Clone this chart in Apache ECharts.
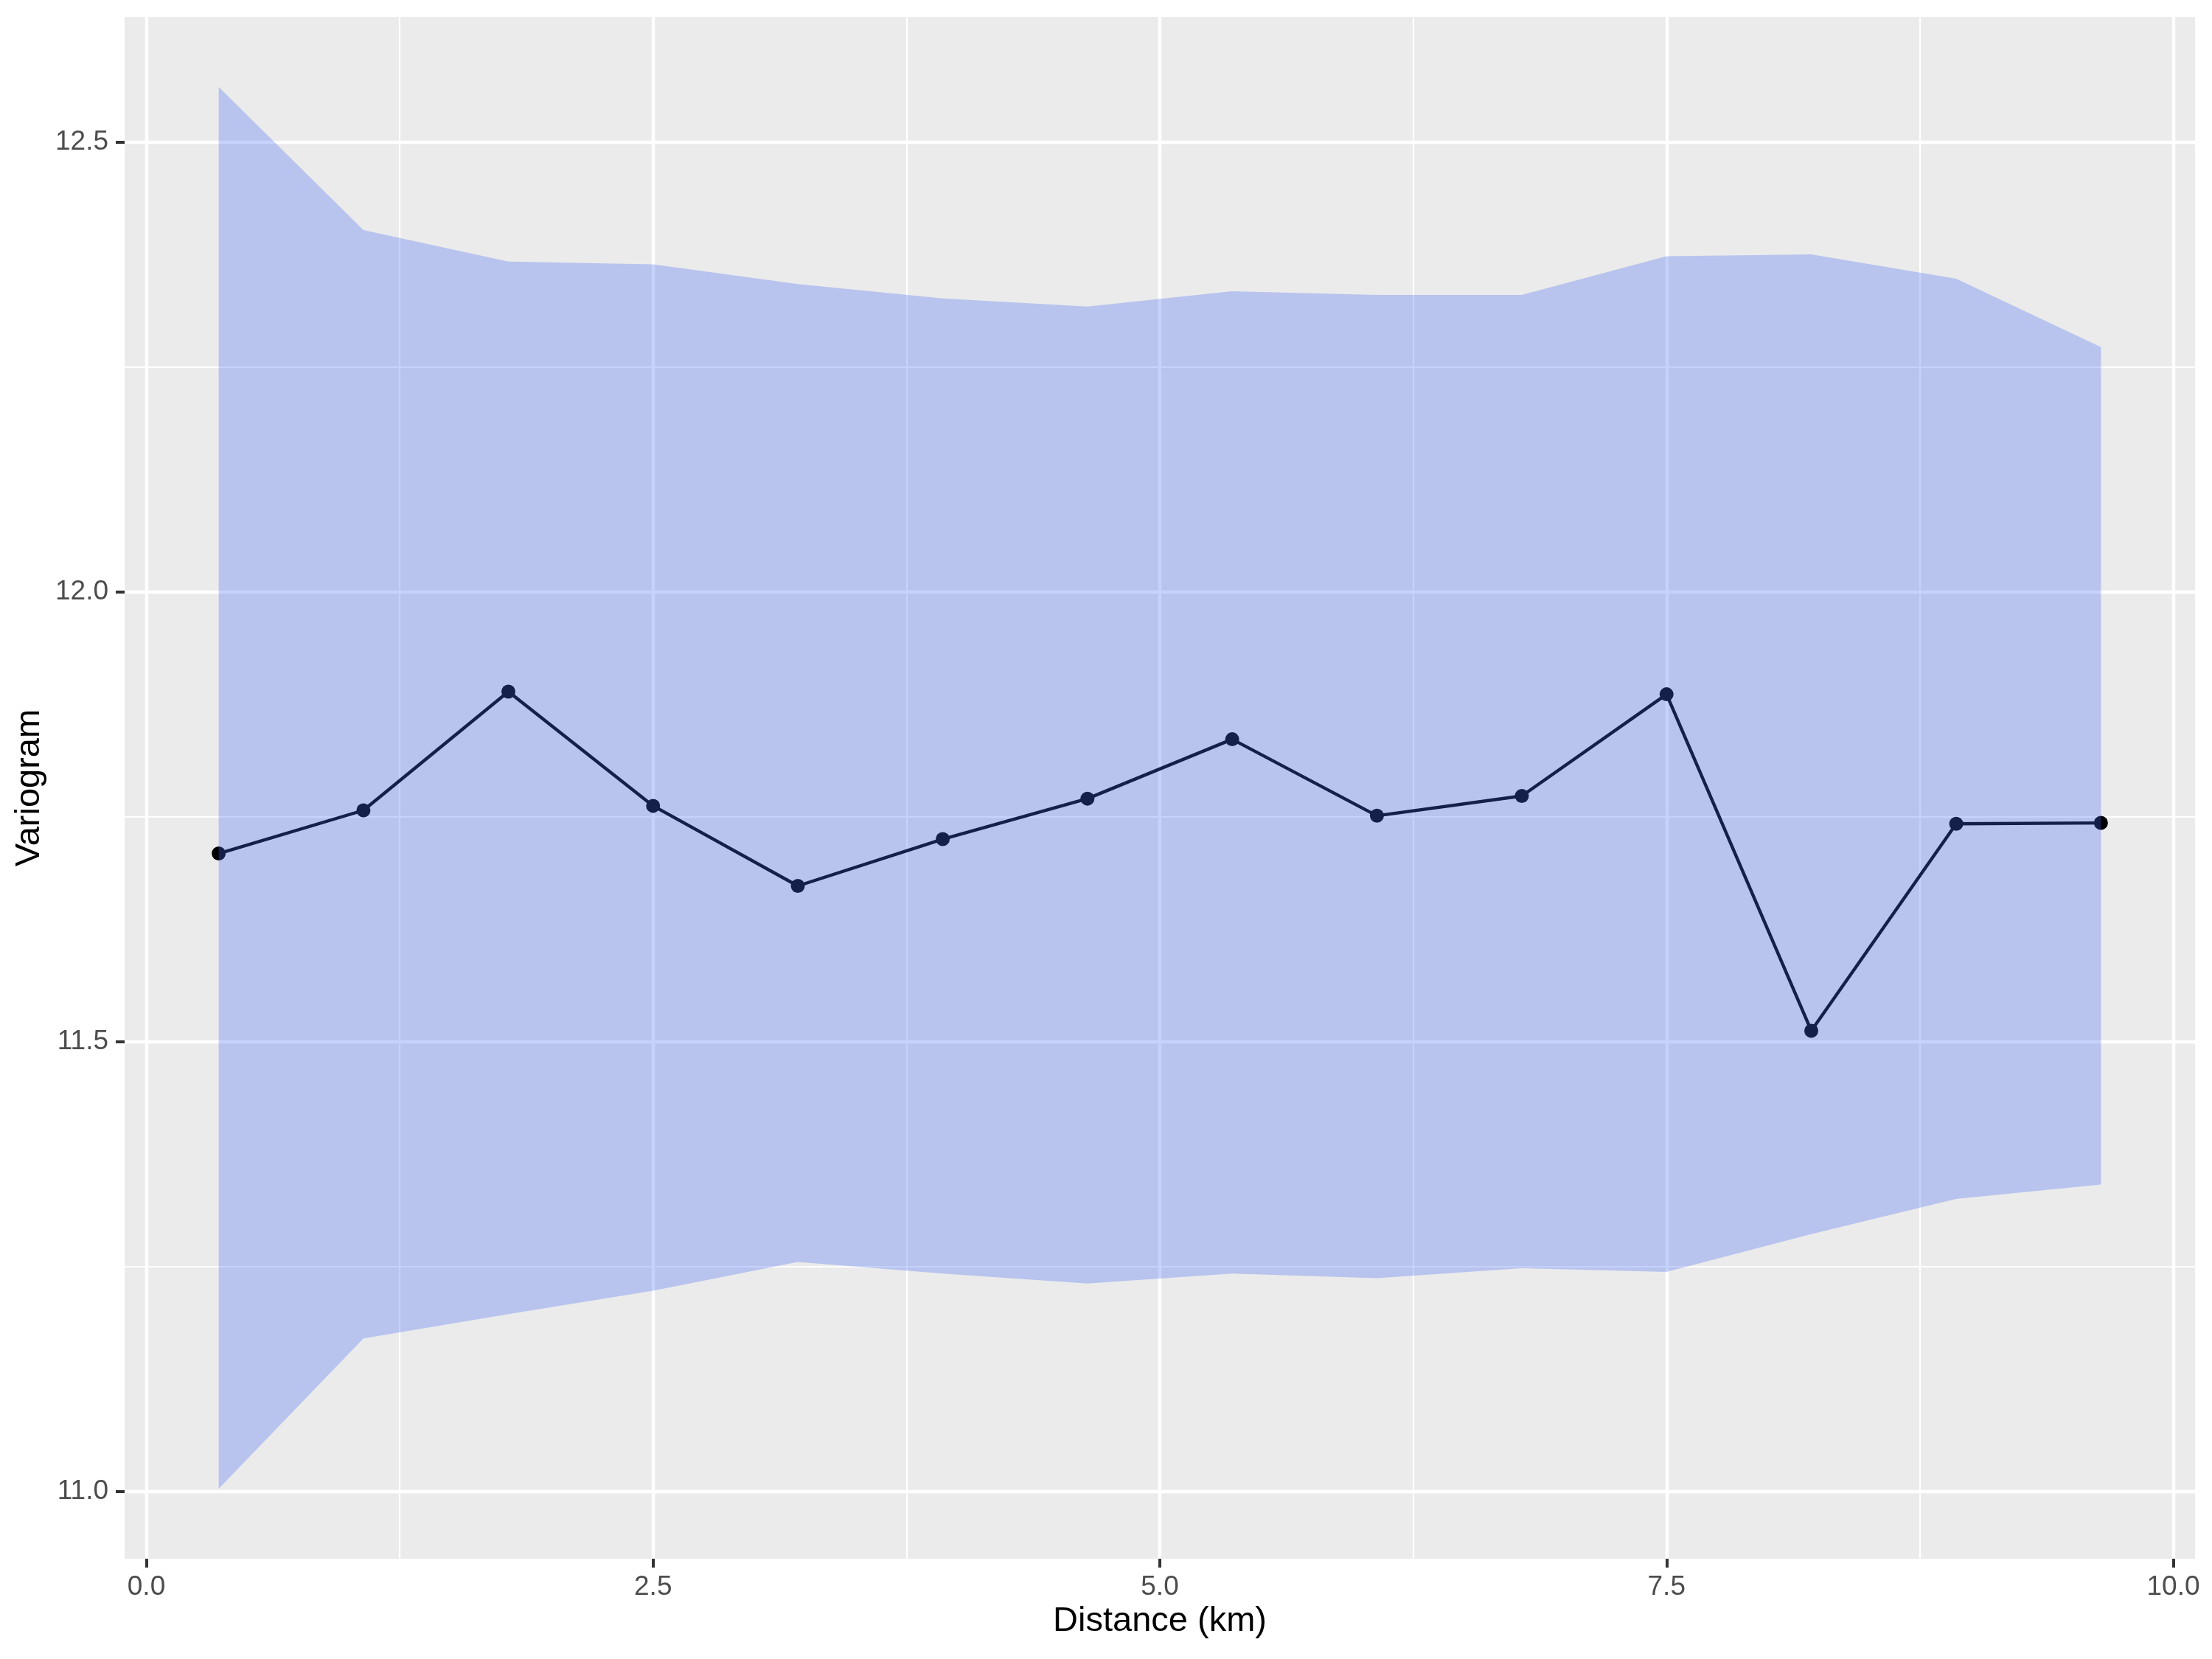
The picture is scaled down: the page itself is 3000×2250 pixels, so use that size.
<!DOCTYPE html>
<html>
<head>
<meta charset="utf-8">
<title>Variogram</title>
<script src="https://cdn.jsdelivr.net/npm/echarts@6/dist/echarts.min.js"></script>
<style>
  html, body { margin: 0; padding: 0; background: #fff; }
  #chart { width: 3000px; height: 2250px; }
</style>
</head>
<body>
<div id="chart"></div>
<script>
// bin centres (km)
const distance = [0.357, 1.071, 1.786, 2.5, 3.214, 3.929, 4.643, 5.357, 6.071, 6.786, 7.5, 8.214, 8.929, 9.643]
// empirical variogram
const variogram = [11.709, 11.757, 11.889, 11.762, 11.673, 11.725, 11.770, 11.836, 11.751, 11.773, 11.886, 11.512, 11.742, 11.743]
// envelope
const lowerBound = [11.003, 11.170, 11.197, 11.223, 11.255, 11.242, 11.231, 11.242, 11.237, 11.248, 11.244, 11.286, 11.325, 11.341]
const upperBound = [12.561, 12.402, 12.367, 12.364, 12.342, 12.326, 12.317, 12.334, 12.330, 12.330, 12.373, 12.375, 12.348, 12.272]

const xTicks = [0, 2.5, 5, 7.5, 10]
const xMinorTicks = [1.25, 3.75, 6.25, 8.75]
const yTicks = [11.0, 11.5, 12.0, 12.5]
const yMinorTicks = [11.25, 11.75, 12.25]

// ggplot style 5% expansion
function expand(arr) {
  const lo = Math.min(...arr), hi = Math.max(...arr)
  const pad = (hi - lo) * 0.05
  return [lo - pad, hi + pad]
}
const xRange = expand(distance)
const yRange = expand(lowerBound.concat(upperBound, variogram))

const font = 'Liberation Sans, Arial, Helvetica, sans-serif'
const fmt = v => Number(v).toFixed(1)

const pts = distance.map((d, i) => [d, variogram[i]])
const bandData = distance.map((d, i) => [d, lowerBound[i], upperBound[i]])

const minorAxis = (ticks, range, pos) => ({
  type: 'value',
  position: pos,
  min: range[0],
  max: range[1],
  axisLine: { show: false, onZero: false },
  axisTick: { show: false, customValues: ticks },
  axisLabel: { show: false },
  splitLine: { show: true, lineStyle: { color: '#FFFFFF', width: 2.2 } }
})

const option = {
  animation: false,
  backgroundColor: '#FFFFFF',
  grid: {
    left: 169, right: 23, top: 23, bottom: 136,
    show: true, backgroundColor: '#EBEBEB', borderWidth: 0,
    containLabel: false, outerBoundsMode: 'none'
  },
  xAxis: [
    minorAxis(xMinorTicks, xRange, 'top'),
    {
      type: 'value',
      position: 'bottom',
      min: xRange[0],
      max: xRange[1],
      axisLine: { show: false, onZero: false },
      axisTick: { show: true, length: 12, customValues: xTicks, lineStyle: { color: '#333333', width: 4 } },
      axisLabel: { show: true, customValues: xTicks, color: '#4D4D4D', fontSize: 37, fontFamily: font, margin: 20, formatter: fmt },
      splitLine: { show: true, lineStyle: { color: '#FFFFFF', width: 4.4 } },
      name: 'Distance (km)', nameLocation: 'middle', nameGap: 62,
      nameTextStyle: { color: '#000000', fontSize: 47, fontFamily: font }
    }
  ],
  yAxis: [
    minorAxis(yMinorTicks, yRange, 'right'),
    {
      type: 'value',
      position: 'left',
      min: yRange[0],
      max: yRange[1],
      axisLine: { show: false, onZero: false },
      axisTick: { show: true, length: 12, customValues: yTicks, lineStyle: { color: '#333333', width: 4 } },
      axisLabel: { show: true, customValues: yTicks, color: '#4D4D4D', fontSize: 37, fontFamily: font, margin: 22, formatter: fmt },
      splitLine: { show: true, lineStyle: { color: '#FFFFFF', width: 4.4 } },
      name: 'Variogram', nameLocation: 'middle', nameGap: 105, nameRotate: 90,
      nameTextStyle: { color: '#000000', fontSize: 47, fontFamily: font }
    }
  ],
  series: [
    {
      name: 'variogram',
      type: 'line',
      xAxisIndex: 1, yAxisIndex: 1,
      data: pts,
      z: 2,
      symbol: 'circle',
      symbolSize: 19,
      itemStyle: { color: '#000000' },
      lineStyle: { color: '#000000', width: 4.4 },
      silent: true
    },
    {
      // envelope drawn over the line, like geom_ribbon after geom_point
      name: 'envelope',
      type: 'custom',
      xAxisIndex: 1, yAxisIndex: 1,
      data: bandData,
      encode: { x: 0, y: [1, 2] },
      z: 3,
      silent: true,
      renderItem: (params, api) => {
        if (params.dataIndex !== 0) return
        const top = bandData.map(r => api.coord([r[0], r[2]]))
        const bottom = bandData.map(r => api.coord([r[0], r[1]])).reverse()
        return {
          type: 'polygon',
          shape: { points: top.concat(bottom) },
          style: { fill: 'rgba(65, 105, 245, 0.3)' }
        }
      }
    }
  ]
}

const chart = echarts.init(document.getElementById('chart'), null, { renderer: 'canvas' })
chart.setOption(option)
</script>
</body>
</html>
